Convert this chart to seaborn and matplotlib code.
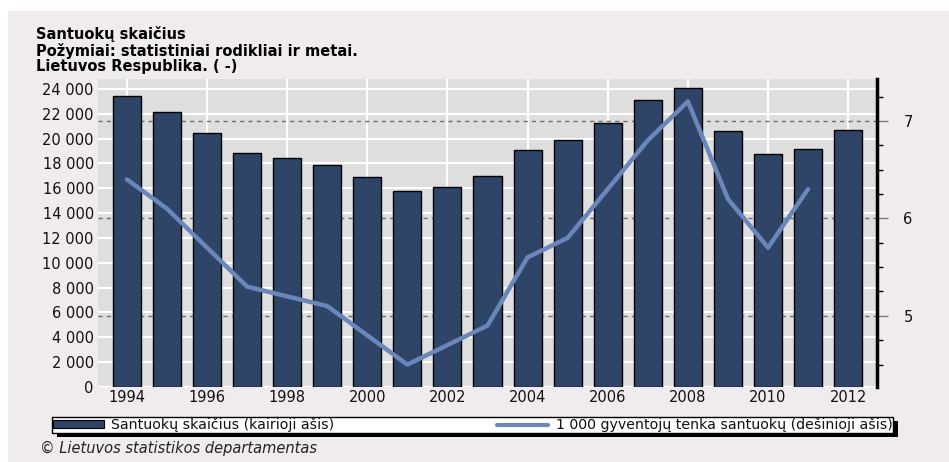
import matplotlib
matplotlib.use("Agg")
import matplotlib.pyplot as plt
import pandas as pd
import seaborn as sns
from matplotlib.ticker import FuncFormatter, MultipleLocator, FixedLocator
from matplotlib.transforms import blended_transform_factory
from matplotlib.patches import Rectangle, Patch
from matplotlib.lines import Line2D

# Number of marriages per year (left axis)
years = list(range(1994, 2013))
marriages = [23400, 22170, 20430, 18870, 18460, 17900, 16900, 15800, 16100,
             17000, 19100, 19900, 21260, 23100, 24100, 20600, 18760, 19200, 20700]

# Marriages per 1 000 inhabitants (right axis)
rate_years = list(range(1994, 2012))
rate = [6.4, 6.1, 5.7, 5.3, 5.2, 5.1, 4.8, 4.5, 4.7, 4.9, 5.6, 5.8, 6.3,
        6.8, 7.2, 6.2, 5.7, 6.3]

left_ticks = list(range(0, 24001, 2000))
right_major = [5, 6, 7]
x_ticks = list(range(1994, 2013, 2))

title_lines = ["Santuokų skaičius",
               "Požymiai: statistiniai rodikliai ir metai.",
               "Lietuvos Respublika. ( -)"]
bar_label = "Santuokų skaičius (kairioji ašis)"
line_label = "1 000 gyventojų tenka santuokų (dešinioji ašis)"
source = "© Lietuvos statistikos departamentas"

bar_color = "#2e4568"
line_color = "#6a86ba"
panel_color = "#efebef"
plot_bg = "#dedede"
text_color = "#111111"

sns.set_theme(style="white")
plt.rcParams["font.family"] = ["DejaVu Sans"]

W, H = 949, 462
fig = plt.figure(figsize=(W / 100, H / 100), dpi=100, facecolor="white")
fig.patches.append(Rectangle((8 / W, 0), 1, 1 - 11 / H, transform=fig.transFigure,
                             facecolor=panel_color, edgecolor="none", zorder=-10))

ax = fig.add_axes([98 / W, 75 / H, (877 - 98) / W, (387 - 79) / H])
ax.set_facecolor(plot_bg)

df_bars = pd.DataFrame({"year": years, "marriages": marriages})
sns.barplot(data=df_bars, x="year", y="marriages", native_scale=True, width=0.7,
            color=bar_color, saturation=1, edgecolor="black", linewidth=1,
            ax=ax, zorder=2)

ax.set_xlim(1993.28, 2012.72)
ax.set_ylim(0, 24800)
ax.xaxis.set_major_locator(FixedLocator(x_ticks))
ax.yaxis.set_major_locator(FixedLocator(left_ticks))
ax.yaxis.set_major_formatter(FuncFormatter(lambda v, _: f"{int(v):,}".replace(",", " ")))
ax.set_axisbelow(True)
ax.grid(True, color="white", linewidth=1.5)
ax.set_xlabel("")
ax.set_ylabel("")
for s in ax.spines.values():
    s.set_visible(False)
ax.tick_params(axis="both", length=0, labelsize=10.5, labelcolor=text_color)
ax.tick_params(axis="y", pad=3)
ax.tick_params(axis="x", pad=2)

ax2 = ax.twinx()
df_rate = pd.DataFrame({"year": rate_years, "rate": rate})
sns.lineplot(data=df_rate, x="year", y="rate", color=line_color, linewidth=3.2, ax=ax2)
ax2.set_ylim(4.27, 7.43)
ax2.yaxis.set_major_locator(FixedLocator(right_major))
ax2.yaxis.set_minor_locator(MultipleLocator(0.25))
ax2.yaxis.set_major_formatter(FuncFormatter(lambda v, _: f"{v:g}"))
ax2.set_ylabel("")
ax2.set_xlabel("")
for name, s in ax2.spines.items():
    s.set_visible(name == "right")
ax2.spines["right"].set_color("black")
ax2.spines["right"].set_linewidth(2.5)
ax2.tick_params(axis="y", which="major", length=8, width=1, color="#7a7a7a",
                labelsize=10.5, labelcolor=text_color, pad=11, direction="out", right=True)
ax2.tick_params(axis="y", which="minor", length=4, width=1, color="black",
                direction="out", right=True)

# dashed guides for the right-axis scale, drawn behind the bars
blend = blended_transform_factory(ax.transAxes, ax2.transData)
for v in right_major:
    ax.plot([0, 1], [v, v], transform=blend, color="#6e6e6e", linewidth=1,
            linestyle=(0, (3, 3)), zorder=1.5)

fig.text(36 / W, 1 - 26 / H, "\n".join(title_lines), ha="left", va="top",
         fontsize=10.5, fontweight="bold", color="black", linespacing=1.05)

handles = [Patch(facecolor=bar_color, edgecolor="black", linewidth=0.8),
           Line2D([], [], color=line_color, linewidth=3)]
leg = fig.legend(handles=handles, labels=[bar_label, line_label], ncol=2,
                 loc="upper left", bbox_to_anchor=(52 / W, 1 - 417 / H, (893 - 52) / W, 0),
                 mode="expand", frameon=True, fancybox=False, framealpha=1,
                 edgecolor="black", facecolor="white", fontsize=10.2,
                 borderpad=0.05, borderaxespad=0, handlelength=3.6, handleheight=0.45,
                 handletextpad=0.5, columnspacing=1.0)
leg.get_frame().set_linewidth(1)
for t in leg.get_texts():
    t.set_color(text_color)

fig.canvas.draw()
bb = leg.get_window_extent()
fig.patches.append(Rectangle((bb.x0 + 5, bb.y0 - 4), bb.width, bb.height, transform=None,
                             facecolor="black", edgecolor="none", zorder=4.9))

fig.text(40 / W, 1 - 448 / H, source, ha="left", va="center", fontsize=10.5,
         style="italic", color="#222222")

fig.savefig("out.png", dpi=100, facecolor=fig.get_facecolor())
